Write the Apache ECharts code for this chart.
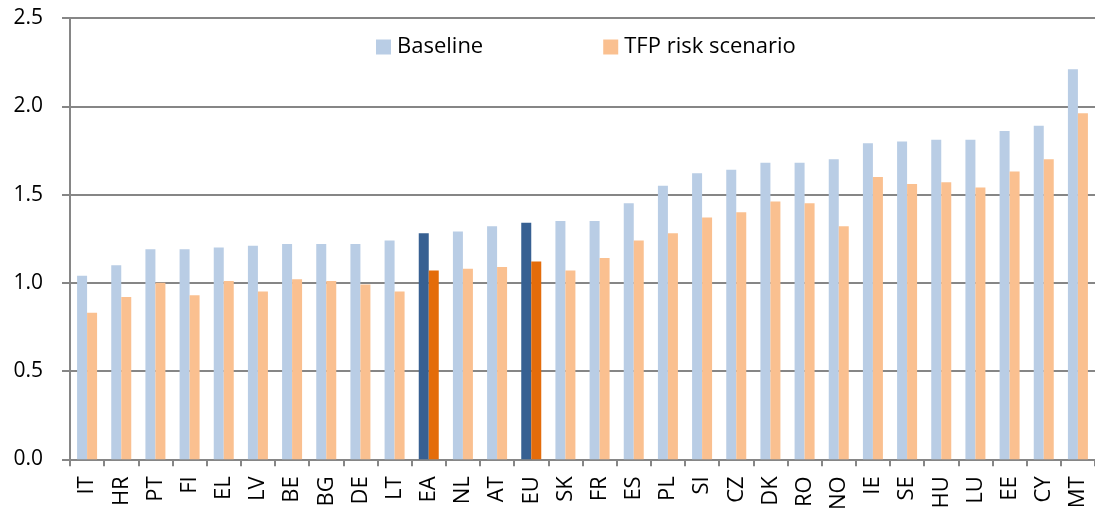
<!DOCTYPE html>
<html>
<head>
<meta charset="utf-8">
<script src="https://cdn.jsdelivr.net/npm/echarts@6/dist/echarts.min.js"></script>
<style>
html,body{margin:0;padding:0;background:#fff;}
#c{width:1095px;height:513px;}
</style>
</head>
<body>
<div id="c"></div>
<script>
const categories = ['IT','HR','PT','FI','EL','LV','BE','BG','DE','LT','EA','NL','AT','EU','SK','FR','ES','PL','SI','CZ','DK','RO','NO','IE','SE','HU','LU','EE','CY','MT'];
const baseline = [1.04,1.10,1.19,1.19,1.20,1.21,1.22,1.22,1.22,1.24,1.28,1.29,1.32,1.34,1.35,1.35,1.45,1.55,1.62,1.64,1.68,1.68,1.70,1.79,1.80,1.81,1.81,1.86,1.89,2.21];
const tfpRisk = [0.83,0.92,1.00,0.93,1.01,0.95,1.02,1.01,0.99,0.95,1.07,1.08,1.09,1.12,1.07,1.14,1.24,1.28,1.37,1.40,1.46,1.45,1.32,1.60,1.56,1.57,1.54,1.63,1.70,1.96];
const highlighted = ['EA','EU'];
const seriesNames = ['Baseline','TFP risk scenario'];
const yTicks = [0,0.5,1.0,1.5,2.0,2.5];

const colBase = '#B9CDE5', colTfp = '#FAC090';
const colBaseHi = '#376092', colTfpHi = '#E46C0A';

function mk(vals, hi){
  return vals.map((v,i)=> highlighted.includes(categories[i]) ? {value:v, itemStyle:{color:hi}} : v);
}

const chart = echarts.init(document.getElementById('c'), null, {renderer:'canvas'});
const fontFam = '"Open Sans", sans-serif';
chart.setOption({
  animation:false,
  backgroundColor:'#fff',
  grid:{left:70, top:18, width:1030, height:443, containLabel:false},
  legend:{
    left:376, top:36, padding:0,
    itemWidth:15, itemHeight:15, itemGap:120,
    icon:'rect',
    textStyle:{fontFamily:fontFam, fontSize:22, color:'#000', padding:[0,0,0,1]},
    data:seriesNames
  },
  xAxis:{
    type:'category', data:categories,
    axisLine:{lineStyle:{color:'#868686', width:2}},
    axisTick:{show:true, alignWithLabel:false, length:7, lineStyle:{color:'#868686', width:2}},
    axisLabel:{rotate:90, interval:0, margin:17, fontFamily:fontFam, fontSize:22, color:'#000'},
    splitLine:{show:false}
  },
  yAxis:{
    type:'value', min:yTicks[0], max:yTicks[yTicks.length-1], interval:0.5,
    axisLine:{show:true, lineStyle:{color:'#868686', width:2}},
    axisTick:{show:true, length:8, lineStyle:{color:'#868686', width:2}},
    axisLabel:{margin:27, fontFamily:fontFam, fontSize:21, color:'#000', formatter:v=>v.toFixed(1)},
    splitLine:{show:true, lineStyle:{color:'#868686', width:2}}
  },
  series:[
    {name:seriesNames[0], type:'bar', data:mk(baseline, colBaseHi), itemStyle:{color:colBase}, barWidth:10, barGap:'0%'},
    {name:seriesNames[1], type:'bar', data:mk(tfpRisk, colTfpHi), itemStyle:{color:colTfp}, barWidth:10, barGap:'0%'}
  ]
});
</script>
</body>
</html>
